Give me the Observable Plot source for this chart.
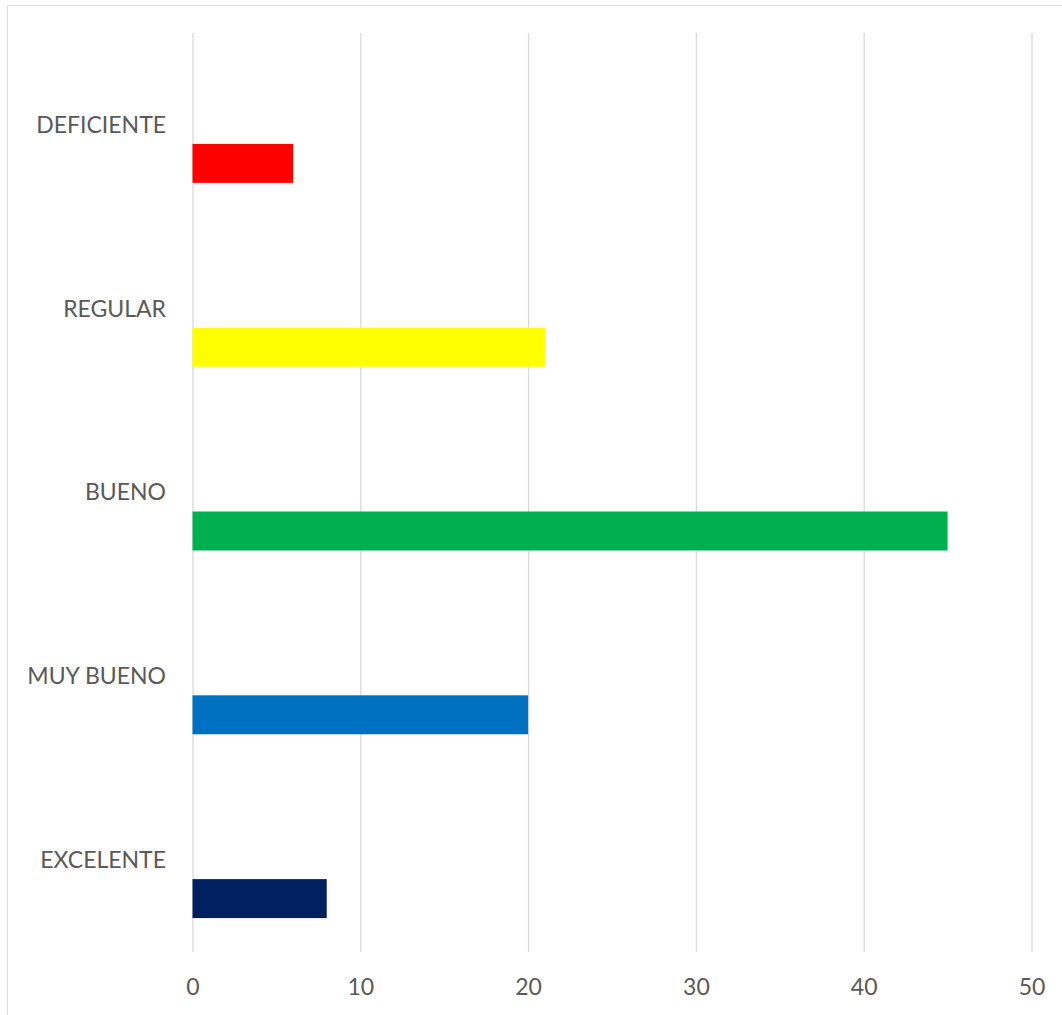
<!DOCTYPE html>
<html>
<head>
<meta charset="utf-8">
<script src="https://cdn.jsdelivr.net/npm/d3@7"></script>
<script src="https://cdn.jsdelivr.net/npm/@observablehq/plot@0.6"></script>
<style>
  body { margin: 0; background: #fff; }
  #wrap { position: relative; width: 1062px; height: 1015px; overflow: hidden; }
  #frame { position: absolute; left: 7px; top: 5px; width: 1100px; height: 1100px;
           border-top: 1.5px solid #D9D9D9; border-left: 1.5px solid #D9D9D9; pointer-events: none; }
</style>
</head>
<body>
<div id="wrap"><div id="frame"></div></div>
<script>
const categories = ["DEFICIENTE", "REGULAR", "BUENO", "MUY BUENO", "EXCELENTE"];
const values = [6, 21, 45, 20, 8];
const colors = ["#FF0000", "#FFFF00", "#00B050", "#0070C0", "#002060"];
const xTicks = [0, 10, 20, 30, 40, 50];

const data = categories.map((c, i) => ({category: c, value: values[i]}));

const chart = Plot.plot({
  width: 1062,
  height: 1015,
  marginLeft: 192.5,
  marginRight: 30.5,
  marginTop: 33,
  marginBottom: 63,
  style: {fontFamily: "Lato, 'Open Sans', sans-serif", fontSize: "23px", background: "transparent"},
  x: {domain: [0, 50], ticks: xTicks},
  y: {type: "band", domain: categories, paddingInner: 0.788, paddingOuter: 0.394, round: false},
  color: {domain: categories, range: colors},
  marks: [
    Plot.gridX(xTicks, {stroke: "#D9D9D9", strokeOpacity: 1, strokeWidth: 1.3}),
    Plot.barX(data, {x: "value", y: "category", fill: "category", dy: 38.5}),
    Plot.axisX({ticks: xTicks, tickSize: 0, tickPadding: 26, color: "#595959", label: null}),
    Plot.axisY({tickSize: 0, tickPadding: 27, color: "#595959", label: null})
  ]
});
document.getElementById("wrap").prepend(chart);
</script>
</body>
</html>
